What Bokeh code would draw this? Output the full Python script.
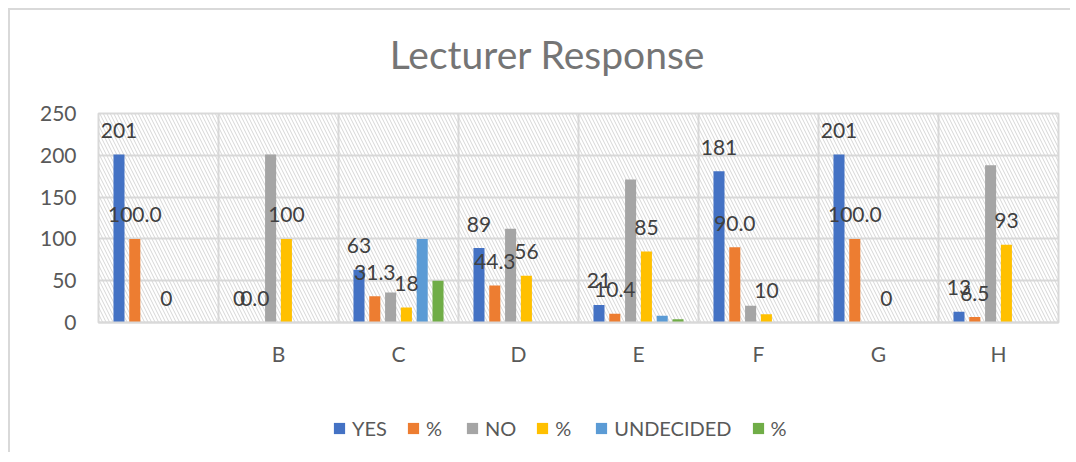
import numpy as np
from bokeh.plotting import figure
from bokeh.layouts import column
from bokeh.models import (ColumnDataSource, Range1d, FixedTicker, BoxAnnotation,
                          Legend, LegendItem, Label)
from bokeh.transform import dodge
from bokeh.core.properties import value
from bokeh.embed import file_html
from bokeh.resources import INLINE

# ---------------- data ----------------
chart_title = "Lecturer Response"
categories = ["A", "B", "C", "D", "E", "F", "G", "H"]
tick_labels = ["", "B", "C", "D", "E", "F", "G", "H"]
series_names = ["YES", "%", "NO", "%", "UNDECIDED", "%"]
yes = [201, 0, 63, 89, 21, 181, 201, 13]
yes_pct = [100.0, 0.0, 31.3, 44.3, 10.4, 90.0, 100.0, 6.5]
no = [0, 201, 36, 112, 171, 20, 0, 188]
no_pct = [0, 100, 18, 56, 85, 10, 0, 93]
undecided = [0, 0, 100, 0, 8, 0, 0, 0]
undecided_pct = [0, 0, 50, 0, 4, 0, 0, 0]
y_ticks = [0, 50, 100, 150, 200, 250]

series = [yes, yes_pct, no, no_pct, undecided, undecided_pct]
colors = ["#4472C4", "#ED7D31", "#A5A5A5", "#FFC000", "#5B9BD5", "#70AD47"]
label_fmt = ["{:.0f}", "{:.1f}", None, "{:.0f}", None, None]

FONT = "Lato"
n = len(categories)
xs = np.arange(n)


def strip(height):
    s = figure(width=1060, height=height, output_backend="svg", toolbar_location=None,
               x_range=Range1d(-0.5, n - 0.5), y_range=Range1d(-1000, -999),
               x_axis_type=None, y_axis_type=None, min_border=0)
    s.grid.visible = False
    s.outline_line_color = None
    s.background_fill_color = "white"
    s.border_fill_color = "white"
    return s


# ---------------- title strip ----------------
pt = strip(90)
pt.add_layout(Label(x=449, y=47, x_units="screen", y_units="screen", text=chart_title,
                    text_align="center", text_baseline="middle",
                    text_font=FONT, text_font_size="39px", text_color="#757575"))

# ---------------- main chart ----------------
p = figure(width=1060, height=282, output_backend="svg", toolbar_location=None,
           x_range=Range1d(-0.5, n - 0.5), y_range=Range1d(0, 250),
           min_border_left=88, min_border_right=12, min_border_top=13, min_border_bottom=60)

p.background_fill_color = "white"
p.border_fill_color = "white"
p.outline_line_color = "#d9d9d9"
p.outline_line_width = 2

# hatched plot area
p.add_layout(BoxAnnotation(fill_alpha=0, line_alpha=0, hatch_pattern="\\",
                           hatch_color="#d6d6d6", hatch_scale=7, hatch_weight=1,
                           level="underlay"))

# grid
p.ygrid.ticker = FixedTicker(ticks=y_ticks)
p.ygrid.grid_line_color = "#d9d9d9"
p.ygrid.grid_line_width = 2
p.xgrid.ticker = FixedTicker(ticks=[i - 0.5 for i in range(n + 1)])
p.xgrid.grid_line_color = "#d9d9d9"
p.xgrid.grid_line_width = 2

# axes
p.yaxis.ticker = FixedTicker(ticks=y_ticks)
p.yaxis.axis_line_color = None
p.yaxis.major_tick_line_color = None
p.yaxis.minor_tick_line_color = None
p.yaxis.major_label_standoff = 16
p.yaxis.major_label_text_font = FONT
p.yaxis.major_label_text_font_size = "21px"
p.yaxis.major_label_text_color = "#595959"

p.xaxis.ticker = FixedTicker(ticks=list(range(n)))
p.xaxis.major_label_overrides = {i: t for i, t in enumerate(tick_labels)}
p.xaxis.axis_line_color = "#d9d9d9"
p.xaxis.axis_line_width = 2
p.xaxis.major_tick_line_color = None
p.xaxis.minor_tick_line_color = None
p.xaxis.major_label_standoff = 12
p.xaxis.major_label_text_font = FONT
p.xaxis.major_label_text_font_size = "21px"
p.xaxis.major_label_text_color = "#595959"

# ---------------- legend strip ----------------
pl = strip(70)

step = 0.1317
bar_w = 0.092
items = []
sources = []
for j, (vals, col, name, fmt) in enumerate(zip(series, colors, series_names, label_fmt)):
    off = (j - 2.5) * step
    src = ColumnDataSource(dict(x=xs, top=vals,
                                lab=[fmt.format(v) if fmt else "" for v in vals]))
    sources.append((off, src, fmt))
    p.vbar(x=dodge("x", off, range=p.x_range), top="top", width=bar_w, bottom=0,
           source=src, fill_color=col, line_color=None)
    # zero-width proxy bars in the legend strip so its legend has glyphs
    r = pl.vbar(x=dodge("x", off, range=pl.x_range), top="top", width=0, bottom=0,
                source=src, fill_color=col, line_color=None)
    items.append(LegendItem(label=name, renderers=[r]))

# data labels drawn after all bars so they sit on top
for off, src, fmt in sources:
    if fmt:
        p.text(x=dodge("x", off, range=p.x_range), y="top", text="lab", source=src,
               text_align="center", text_baseline="middle", y_offset=-24,
               text_font=value(FONT), text_font_size="21px", text_color="#404040")

legend = Legend(items=items, orientation="horizontal", location=(234, 12),
                padding=0, margin=0, spacing=19, label_standoff=6,
                glyph_width=14, glyph_height=14,
                label_text_font=FONT, label_text_font_size="20px",
                label_text_color="#595959", border_line_color=None,
                background_fill_alpha=0)
pl.add_layout(legend, "center")

layout = column(pt, p, pl, spacing=0,
                styles={"margin-left": "8px", "margin-top": "8px",
                        "border-left": "2px solid #d9d9d9", "border-top": "2px solid #d9d9d9"})

open("out.html", "w").write(file_html(layout, INLINE))
